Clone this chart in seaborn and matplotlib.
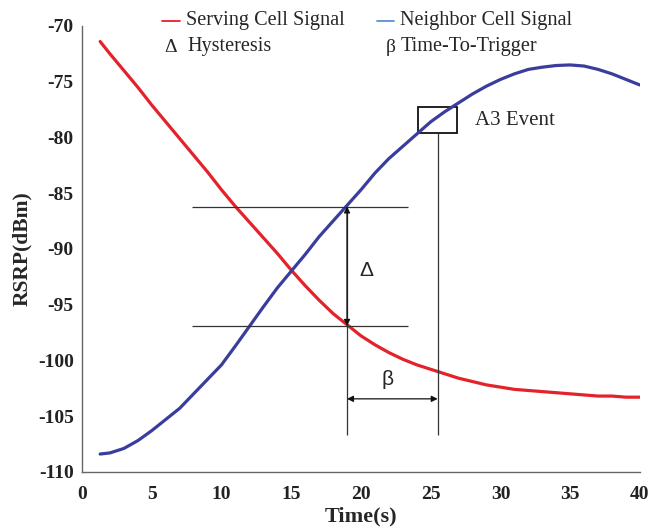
import numpy as np
import pandas as pd
import matplotlib
matplotlib.use("Agg")
import matplotlib.pyplot as plt
from matplotlib.lines import Line2D
from matplotlib.patches import Rectangle
import seaborn as sns

# values
time_s = [1.3, 2, 3, 4, 5, 6, 7, 8, 9, 10, 11, 12, 13, 14, 15, 16, 17, 18, 19, 20,
          21, 22, 23, 24, 25, 26, 27, 28, 29, 30, 31, 32, 33, 34, 35, 36, 37, 38, 39, 40]
serving = [-71.4, -72.5, -74.0, -75.5, -77.1, -78.6, -80.1, -81.6, -83.1, -84.7,
           -86.2, -87.6, -89.0, -90.4, -91.9, -93.3, -94.6, -95.8, -96.8, -97.8,
           -98.6, -99.3, -99.9, -100.4, -100.8, -101.2, -101.6, -101.9, -102.2, -102.4,
           -102.6, -102.7, -102.8, -102.9, -103.0, -103.1, -103.2, -103.2, -103.3, -103.3]
neighbor = [-108.4, -108.3, -107.9, -107.2, -106.3, -105.3, -104.3, -103.0, -101.7, -100.4,
            -98.7, -96.95, -95.2, -93.5, -92.0, -90.5, -88.9, -87.5, -86.1, -84.7,
            -83.2, -81.9, -80.8, -79.7, -78.6, -77.7, -76.9, -76.1, -75.4, -74.8,
            -74.3, -73.9, -73.7, -73.55, -73.5, -73.6, -73.9, -74.3, -74.8, -75.3]
series_names = ["Serving Cell Signal", "Neighbor Cell Signal"]
series_colors = ["#e4222a", "#3a3d9c"]

# annotation levels
hyst_top, hyst_bottom = -86.2, -96.9
t_enter, t_trigger = 19.0, 25.5
a3_box = (24.1, -79.6, 2.8, 2.3)

sns.set_theme(style="white")
plt.rcParams["font.family"] = ["Liberation Serif", "DejaVu Serif"]
plt.rcParams["axes.unicode_minus"] = False

df = pd.DataFrame({
    "Time": time_s * 2,
    "RSRP": serving + neighbor,
    "Signal": [series_names[0]] * len(time_s) + [series_names[1]] * len(time_s),
})

fig = plt.figure(figsize=(6.51, 5.29), dpi=100)
ax = fig.add_axes([0.126, 0.108, 0.857, 0.843])

sns.lineplot(data=df, x="Time", y="RSRP", hue="Signal", palette=series_colors,
             linewidth=2.3, legend=False, ax=ax)

# hysteresis / time-to-trigger construction lines
ln = dict(color="#333333", lw=0.9)
ax.hlines([hyst_top, hyst_bottom], 7.9, 23.4, **ln)
ax.vlines(t_enter, -106.7, hyst_top, **ln)
ax.vlines(t_trigger, -106.7, a3_box[1], **ln)
ax.annotate("", xy=(t_enter, hyst_top), xytext=(t_enter, hyst_bottom),
            arrowprops=dict(arrowstyle="<|-|>", color="#111111", lw=0.9,
                            mutation_scale=9, shrinkA=0, shrinkB=0))
ax.annotate("", xy=(t_enter, -103.45), xytext=(t_trigger, -103.45),
            arrowprops=dict(arrowstyle="<|-|>", color="#111111", lw=0.9,
                            mutation_scale=9, shrinkA=0, shrinkB=0))
ax.text(20.4, -91.9, "Δ", fontsize=15, family="Liberation Sans", ha="center", va="center")
ax.text(21.9, -101.7, "β", fontsize=15, family="Liberation Sans", ha="center", va="center")
ax.add_patch(Rectangle(a3_box[:2], a3_box[2], a3_box[3], fill=False,
                       edgecolor="#111111", lw=1.3))
ax.text(28.2, -78.5, "A3 Event", fontsize=15, ha="left", va="center")

ax.set_xlim(0, 40)
ax.set_ylim(-110, -70)
ax.set_xticks(range(0, 41, 5))
ax.set_yticks(range(-110, -69, 5))
ax.tick_params(direction="in", length=4, width=0.8, colors="#555555",
               labelcolor="#222222", labelsize=14, pad=6)
ax.tick_params(axis="x", pad=10)
for lab in ax.get_xticklabels() + ax.get_yticklabels():
    lab.set_fontweight("bold")
for side in ["top", "right"]:
    ax.spines[side].set_visible(False)
for side in ["left", "bottom"]:
    ax.spines[side].set_color("#666666")
    ax.spines[side].set_linewidth(1.0)
ax.set_xlabel("Time(s)", fontsize=16, fontweight="bold", labelpad=3)
ax.set_ylabel("RSRP(dBm)", fontsize=15.5, fontweight="bold", labelpad=4)

# legend drawn as figure text
row1, row2 = 1 - 21 / 529, 1 - 47 / 529
fig.add_artist(Line2D([162 / 651, 180 / 651], [row1] * 2, color=series_colors[0], lw=1.3))
fig.add_artist(Line2D([377 / 651, 394 / 651], [row1] * 2, color="#5b8fd6", lw=1.3))
fig.text(186 / 651, row1, series_names[0], fontsize=14.6, va="center")
fig.text(400 / 651, row1, series_names[1], fontsize=14.6, va="center")
fig.text(164 / 651, row2, "Δ", fontsize=14, va="center")
fig.text(187 / 651, row2, "Hysteresis", fontsize=14.6, va="center")
fig.text(386 / 651, row2, "β", fontsize=14, va="center")
fig.text(401 / 651, row2, "Time-To-Trigger", fontsize=14.6, va="center")

fig.savefig("out.png", dpi=100)
